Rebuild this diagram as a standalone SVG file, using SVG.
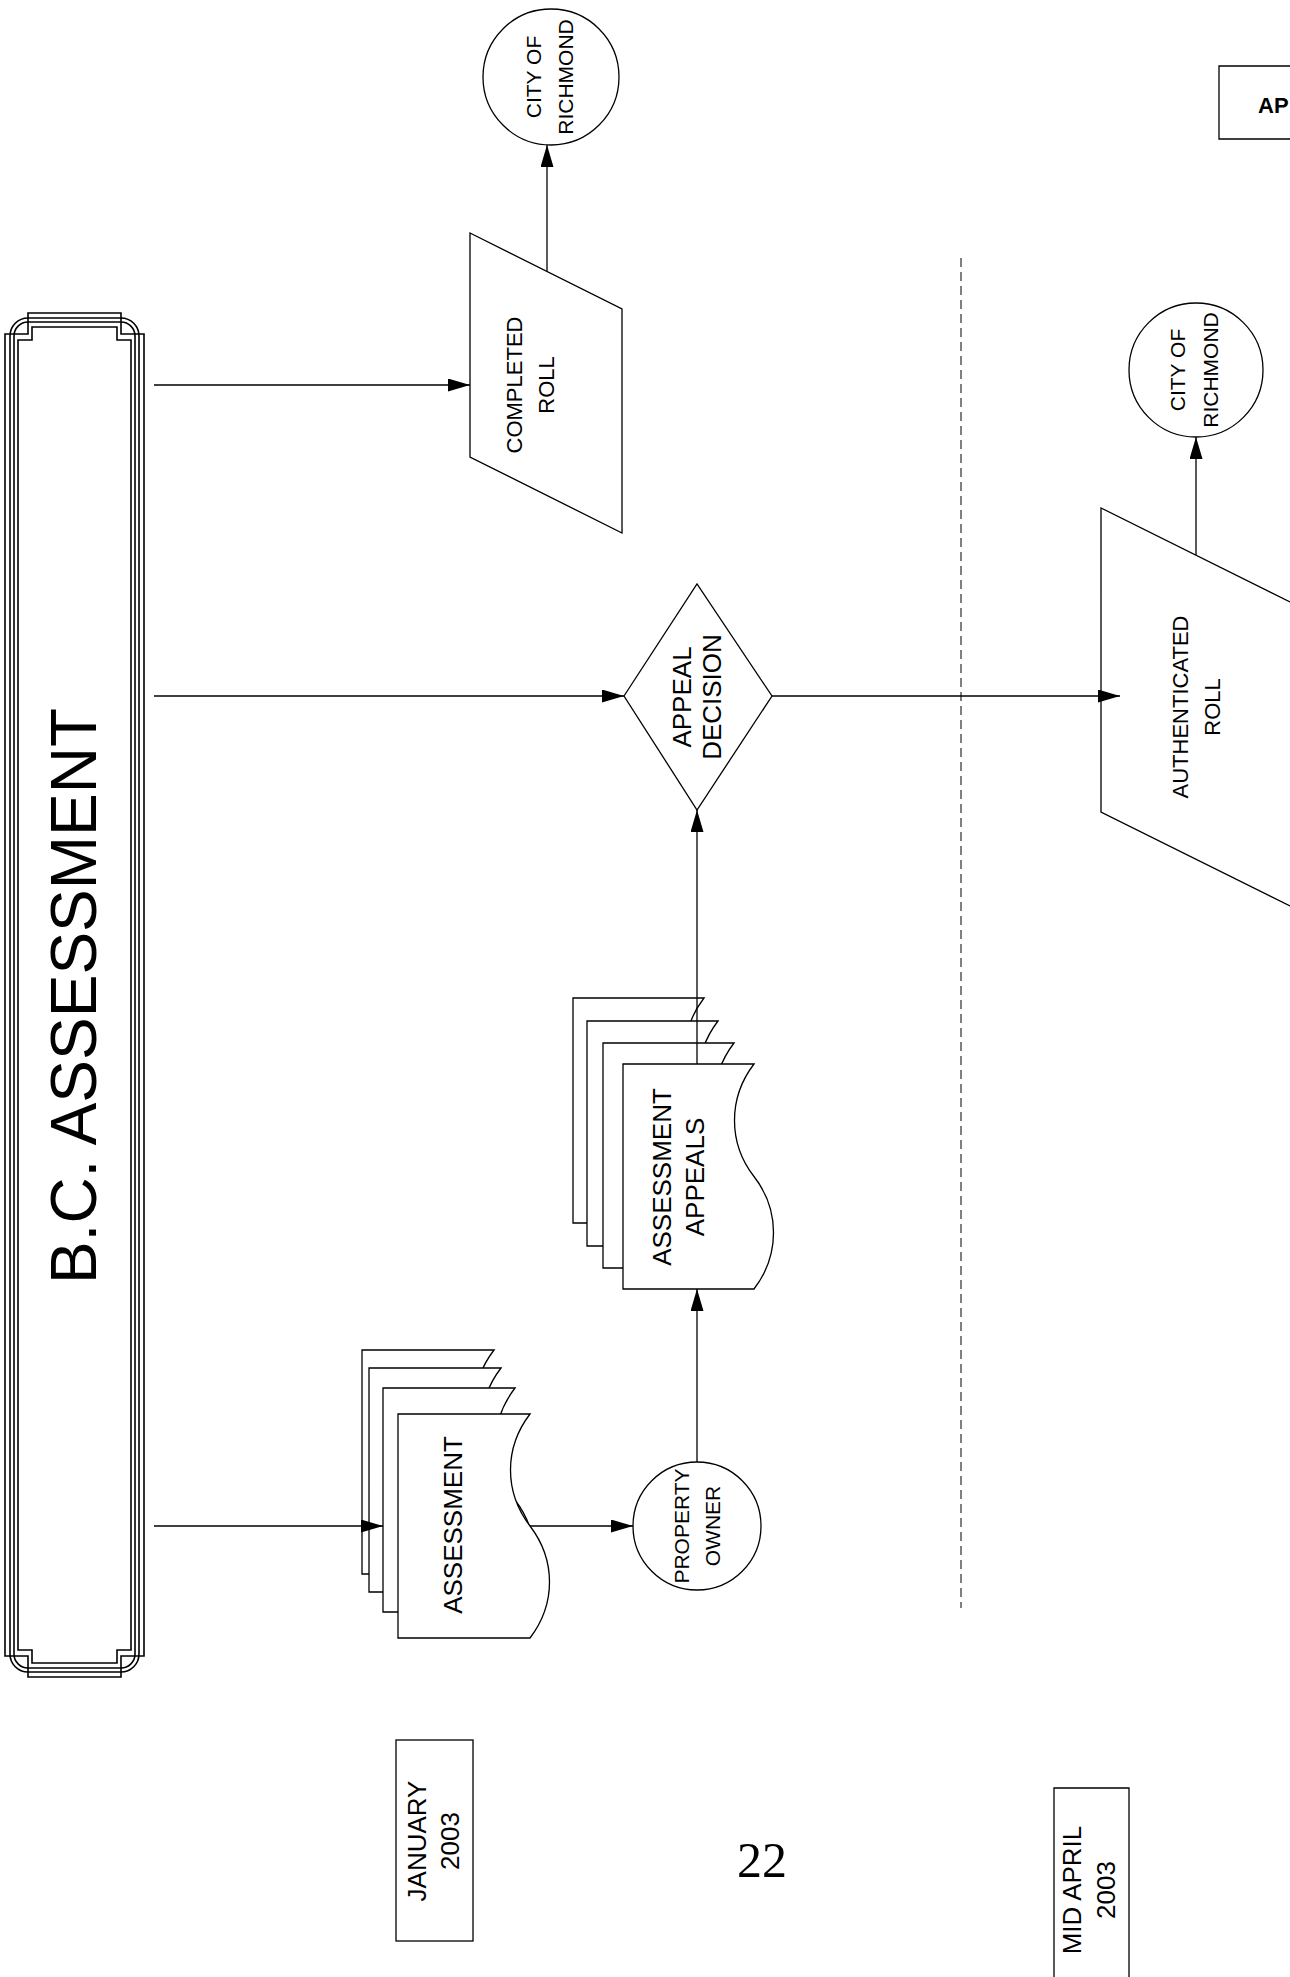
<svg xmlns="http://www.w3.org/2000/svg" xmlns:xlink="http://www.w3.org/1999/xlink" width="1290" height="1977" viewBox="0 0 1290 1977">
<style>
.shape{fill:#fff;stroke:#000;stroke-width:1.3}
.frm{fill:none;stroke:#000;stroke-width:1.6}
.conn{fill:none;stroke:#000;stroke-width:1.3}
.lbl{font-family:"Liberation Sans",Arial,sans-serif;fill:#000;text-anchor:middle}
.f21{font-size:21px}.f22{font-size:22px}.f26{font-size:26px}
</style>
<defs>
<marker id="arr" viewBox="0 0 22 13" refX="22" refY="6.5" markerWidth="22" markerHeight="13" markerUnits="userSpaceOnUse" orient="auto"><path d="M0,0 L22,6.5 L0,13 Z" fill="#000"/></marker>
<path id="sheetA" d="M0,0 H132 C106,34 106,78 132,112 C158,146 158,190 132,224 H0 Z"/>
<path id="sheetB" d="M0,0 H131 C105,34 105,79 131,112.5 C157,146 157,191 131,225 H0 Z"/>
</defs>
<rect width="1290" height="1977" fill="#fff"/>

<g id="bc-assessment">
<path class="frm" stroke-width="2" d="M5,334 H28 V313 H121 V334 H144 V1656 H121 V1677 H28 V1656 H5 Z"/>
<rect class="frm" x="10" y="318" width="129" height="1354" rx="18"/>
<rect class="frm" x="14" y="322" width="121" height="1346" rx="14"/>
<path class="frm" d="M18,340 H32 V327 H117 V340 H131 V1650 H117 V1663 H32 V1650 H18 Z"/>
<text class="lbl" font-size="64" transform="translate(73,996) rotate(-90)" x="0" y="23">B.C. ASSESSMENT</text>
</g>

<g id="completed-roll">
<path class="shape" d="M470,233 L622,309 L622,533 L470,457 Z"/>
<text class="lbl f22" transform="translate(530,385) rotate(-90)"><tspan x="0" y="-8.1">COMPLETED</tspan><tspan x="0" y="23.9">ROLL</tspan></text>
</g>

<g id="city-of-richmond-1">
<circle class="shape" cx="551" cy="77" r="68"/>
<text class="lbl f21" transform="translate(549,77) rotate(-90)"><tspan x="0" y="-8.5">CITY OF</tspan><tspan x="0" y="24">RICHMOND</tspan></text>
</g>

<g id="appeal-decision">
<path class="shape" d="M624,696 L697,584 L772,696 L697,810 Z"/>
<text class="lbl f26" transform="translate(697,697) rotate(-90)"><tspan x="0" y="-5.7">APPEAL</tspan><tspan x="0" y="24.3">DECISION</tspan></text>
</g>

<g id="authenticated-roll">
<path class="shape" d="M1290,602 L1101,508 L1101,812 L1290,906"/>
<text class="lbl f22" transform="translate(1196,707) rotate(-90)"><tspan x="0" y="-8.1">AUTHENTICATED</tspan><tspan x="0" y="23.9">ROLL</tspan></text>
</g>

<g id="city-of-richmond-2">
<circle class="shape" cx="1196" cy="370" r="67"/>
<text class="lbl f21" transform="translate(1193.5,370) rotate(-90)"><tspan x="0" y="-9">CITY OF</tspan><tspan x="0" y="24">RICHMOND</tspan></text>
</g>

<g id="apr-box">
<path class="shape" d="M1290,66 H1219 V139 H1290"/>
<text x="1258" y="113" font-family="Liberation Sans, Arial, sans-serif" font-weight="bold" font-size="22">AP</text>
</g>

<g id="assessment">
<use xlink:href="#sheetA" href="#sheetA" class="shape" x="362" y="1350"/>
<use xlink:href="#sheetA" href="#sheetA" class="shape" x="369" y="1368"/>
<use xlink:href="#sheetA" href="#sheetA" class="shape" x="383" y="1388"/>
<use xlink:href="#sheetA" href="#sheetA" class="shape" x="398" y="1414"/>
<text class="lbl f26" transform="translate(453,1525) rotate(-90)" x="0" y="9.3">ASSESSMENT</text>
</g>

<g id="assessment-appeals">
<use xlink:href="#sheetB" href="#sheetB" class="shape" x="573" y="998"/>
<use xlink:href="#sheetB" href="#sheetB" class="shape" x="587" y="1021"/>
<use xlink:href="#sheetB" href="#sheetB" class="shape" x="603" y="1043"/>
<use xlink:href="#sheetB" href="#sheetB" class="shape" x="623" y="1064"/>
<text class="lbl f26" transform="translate(678.5,1177) rotate(-90)"><tspan x="0" y="-7.2">ASSESSMENT</tspan><tspan x="0" y="25.8">APPEALS</tspan></text>
</g>

<g id="property-owner">
<circle class="shape" cx="697" cy="1526" r="64"/>
<text class="lbl f21" transform="translate(696.5,1526) rotate(-90)"><tspan x="0" y="-8">PROPERTY</tspan><tspan x="0" y="23">OWNER</tspan></text>
</g>

<g id="january-2003">
<rect class="shape" x="396" y="1740" width="77" height="201"/>
<text class="lbl f26" transform="translate(433.5,1841) rotate(-90)"><tspan x="0" y="-7.2">JANUARY</tspan><tspan x="0" y="25.8">2003</tspan></text>
</g>

<g id="mid-april-2003">
<path class="shape" d="M1054,1977 V1788 H1129 V1977"/>
<text class="lbl f26" transform="translate(1089,1890) rotate(-90)"><tspan x="0" y="-7.7">MID APRIL</tspan><tspan x="0" y="26.3">2003</tspan></text>
</g>

<g id="divider">
<line x1="961" y1="258" x2="961" y2="1608" stroke="#000" stroke-width="1" stroke-dasharray="9 5"/>
</g>

<g id="page-number">
<text x="737" y="1877" font-family="Liberation Serif, Times New Roman, serif" font-size="50">22</text>
</g>

<g id="connectors">
<path class="conn" marker-end="url(#arr)" d="M154,385 H470"/>
<path class="conn" marker-end="url(#arr)" d="M154,696 H624"/>
<path class="conn" marker-end="url(#arr)" d="M154,1526 H383"/>
<path class="conn" marker-end="url(#arr)" d="M547,271 V145"/>
<path class="conn" marker-end="url(#arr)" d="M530,1526 H633"/>
<path class="conn" marker-end="url(#arr)" d="M697,1462 V1289"/>
<path class="conn" marker-end="url(#arr)" d="M697,1064 V810"/>
<path class="conn" marker-end="url(#arr)" d="M772,696 H1120"/>
<path class="conn" marker-end="url(#arr)" d="M1196,555 V437"/>
</g>
</svg>
